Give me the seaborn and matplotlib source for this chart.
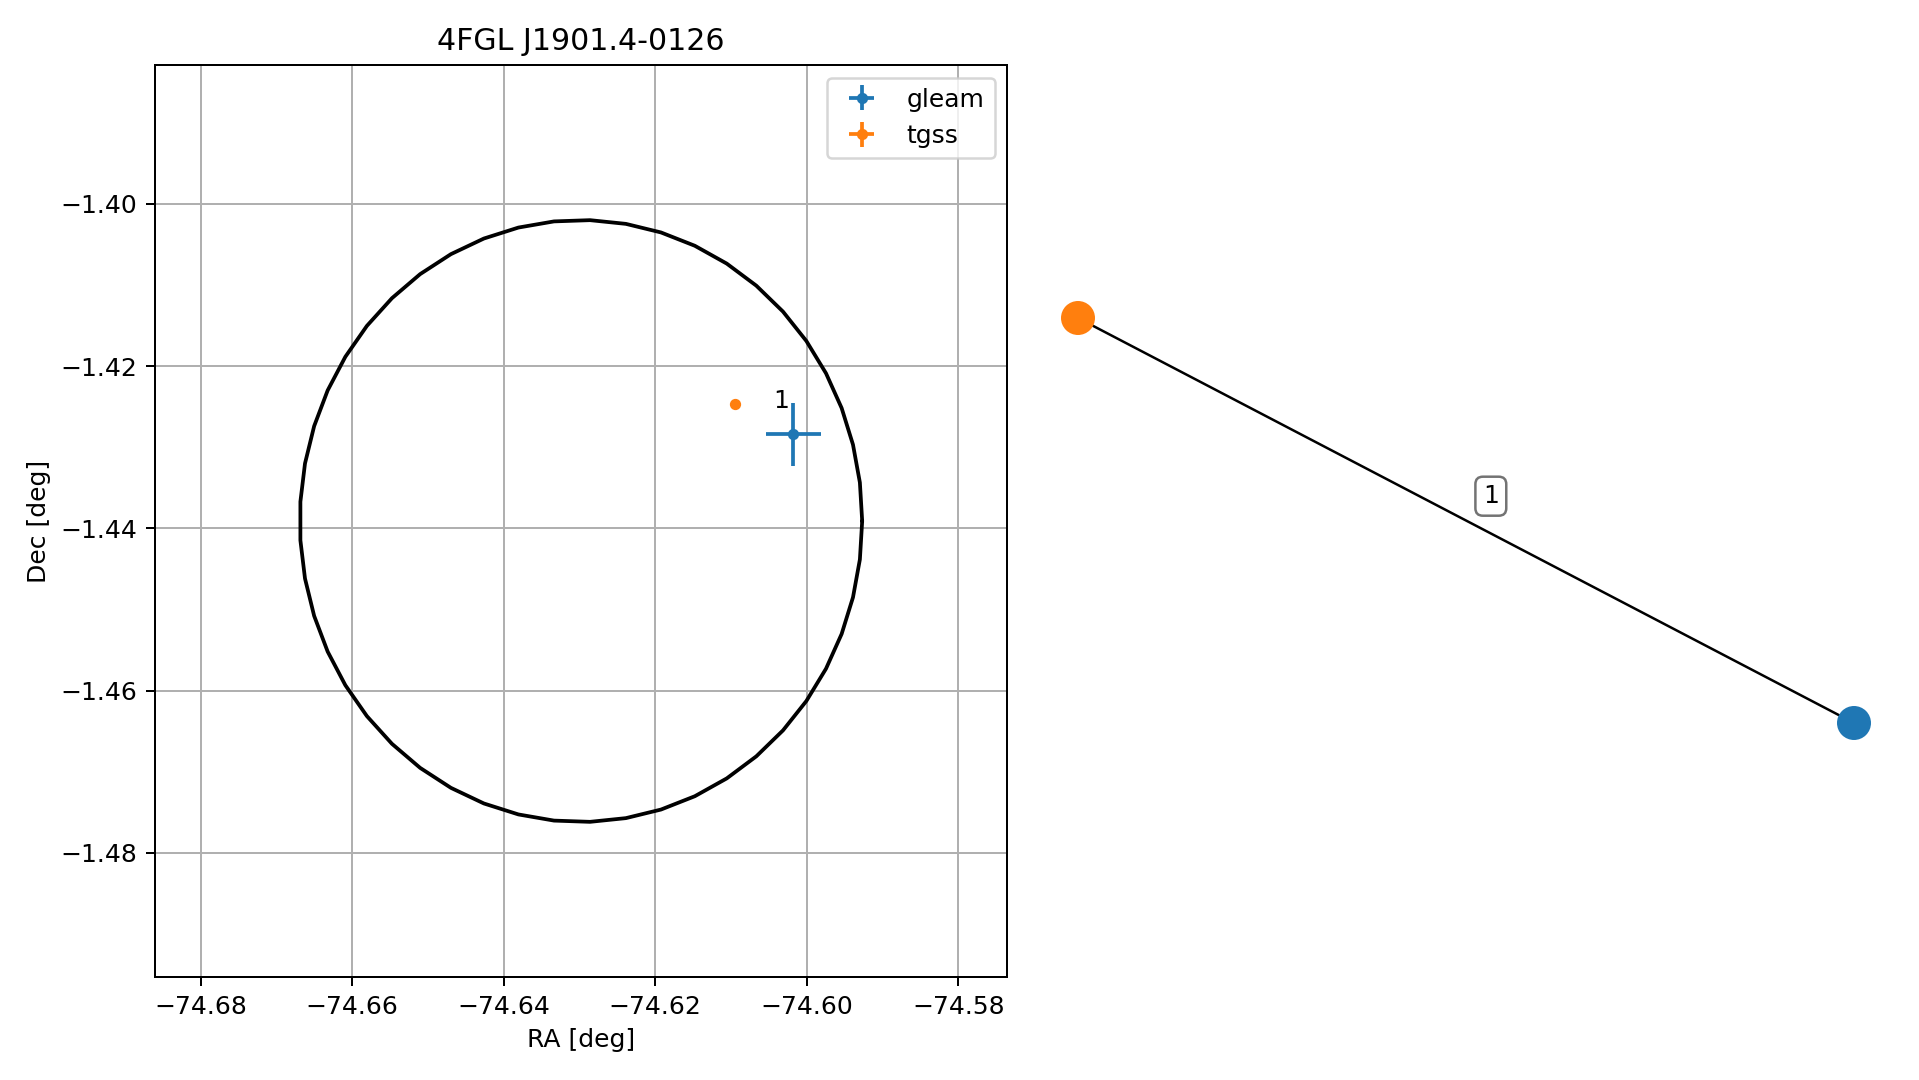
import numpy as np
import pandas as pd
import seaborn as sns
import matplotlib.pyplot as plt

# 4FGL source region (circle centre and radius, deg)
src_name = '4FGL J1901.4-0126'
src_ra = -74.6298
src_dec = -1.4391
src_radius = 0.0371

# radio counterparts
surveys = ['gleam', 'tgss']
survey_colors = ['#1f77b4', '#ff7f0e']
cand_ra = [-74.6018, -74.6095]
cand_dec = [-1.4284, -1.4247]
cand_ra_err = [0.00365, 0.0003]
cand_dec_err = [0.0039, 0.0003]
match_label = '1'
match_label_ra = -74.6034
match_label_dec = -1.4243

# match graph (node layout positions)
node_names = ['tgss', 'gleam']
node_x = [0.0, 1.0]
node_y = [1.0, 0.0]
node_colors = ['#ff7f0e', '#1f77b4']
edge_label_x = 0.532
edge_label_y = 0.560

sns.set_style('white')
plt.rcParams['font.family'] = ['DejaVu Sans']
plt.rcParams['text.color'] = 'black'
plt.rcParams['axes.labelcolor'] = 'black'
plt.rcParams['xtick.color'] = 'black'
plt.rcParams['ytick.color'] = 'black'

dpi = 180
fig = plt.figure(figsize=(1919 / dpi, 1080 / dpi), dpi=dpi)
ax = fig.add_axes([155 / 1919, 1 - 977 / 1080, 852 / 1919, 912 / 1080])

# source circle
theta = np.linspace(0, 2 * np.pi, 50)
circle = pd.DataFrame({'ra': src_ra + src_radius * np.cos(theta),
                       'dec': src_dec + src_radius * np.sin(theta)})
sns.lineplot(data=circle, x='ra', y='dec', sort=False, color='black',
             lw=1.5, ax=ax, estimator=None)

for i, name in enumerate(surveys):
    ax.errorbar(cand_ra[i], cand_dec[i], xerr=cand_ra_err[i], yerr=cand_dec_err[i],
                fmt='o', ms=3.5, color=survey_colors[i], lw=1.5, label=name)

ax.text(match_label_ra, match_label_dec, match_label, ha='center', va='center', fontsize=10)

half = 1.515 * src_radius
ax.set_xlim(src_ra - half, src_ra + half)
ax.set_ylim(src_dec - half, src_dec + half)
ax.set_xticks(np.arange(-74.68, -74.579, 0.02))
ax.set_yticks(np.arange(-1.48, -1.399, 0.02))
ax.grid(True, color='#b0b0b0', lw=0.8)
ax.set_axisbelow(True)
for s in ax.spines.values():
    s.set_color('black')
    s.set_linewidth(0.8)
ax.tick_params(axis='both', which='both', direction='out', length=3.5, width=0.8,
               color='black', labelcolor='black', labelsize=10, bottom=True, left=True)
ax.set_title(src_name, fontsize=12, color='black')
ax.set_xlabel('RA [deg]', fontsize=10)
ax.set_ylabel('Dec [deg]', fontsize=10)
ax.legend(loc='upper right', fontsize=10)

# right panel: match graph
gx = fig.add_axes([1078 / 1919, 1 - 723 / 1080, 776 / 1919, 405 / 1080])
gx.plot(node_x, node_y, color='black', lw=1, zorder=1, clip_on=False)
nodes = pd.DataFrame({'x': node_x, 'y': node_y, 'name': node_names})
sns.scatterplot(data=nodes, x='x', y='y', hue='name', palette=node_colors,
                s=185, edgecolor='none', legend=False, ax=gx, zorder=2, clip_on=False)
gx.text(edge_label_x, edge_label_y, match_label, ha='center', va='center', fontsize=10,
        bbox=dict(boxstyle='round,pad=0.3', fc='white', ec='0.45', lw=1))
gx.set_xlim(0, 1)
gx.set_ylim(0, 1)
gx.axis('off')

fig.savefig('out.png', dpi=dpi)
